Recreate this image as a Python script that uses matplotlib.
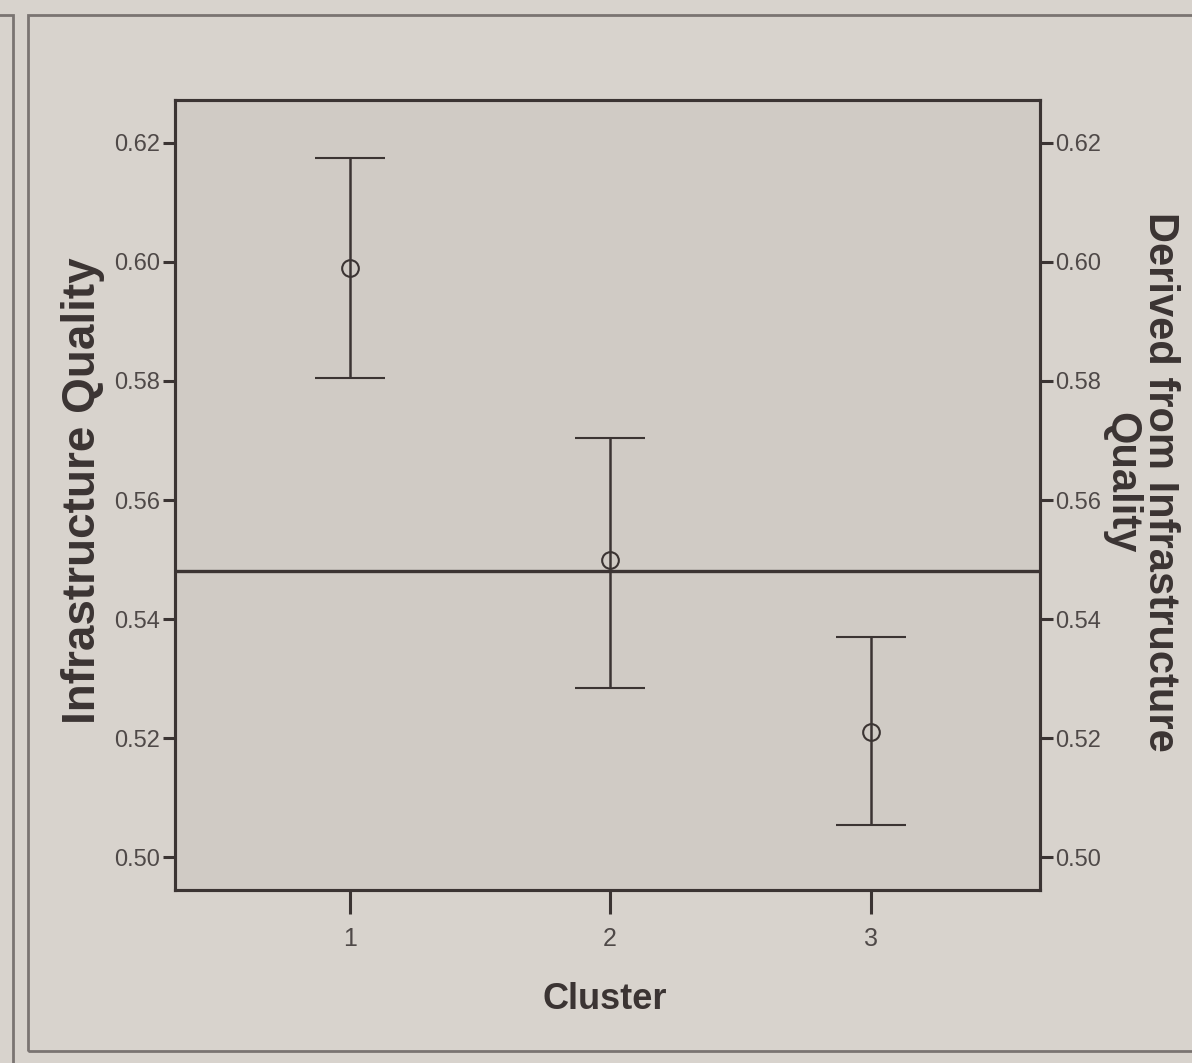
import matplotlib.pyplot as plt
from matplotlib.patches import Rectangle

# values
clusters = [1, 2, 3]
means = [0.599, 0.550, 0.521]
upper = [0.6175, 0.5705, 0.537]
lower = [0.5805, 0.5285, 0.5055]
ref_line = 0.548
yticks = [0.50, 0.52, 0.54, 0.56, 0.58, 0.60, 0.62]

ink = '#3b3433'
plt.rcParams['font.family'] = ['Liberation Sans', 'DejaVu Sans']

fig = plt.figure(figsize=(11.92, 10.63), dpi=100, facecolor='#d8d3cd')
ax = fig.add_axes([175 / 1192, 1 - 890 / 1063, 865 / 1192, 790 / 1063])
ax.set_facecolor('#d0cbc5')

err_lo = [m - l for m, l in zip(means, lower)]
err_hi = [u - m for u, m in zip(upper, means)]
ax.errorbar(clusters, means, yerr=[err_lo, err_hi], fmt='o', mfc='none', mec=ink,
            ms=12, mew=1.5, ecolor=ink, elinewidth=1.8, capsize=25, capthick=1.8)
ax.axhline(ref_line, color=ink, lw=2.4)

ax.set_xlim(0.33, 3.65)
ax.set_ylim(0.4945, 0.6272)
ax.set_xticks(clusters)
ax.set_yticks(yticks)
ax.set_yticklabels(['%.2f' % t for t in yticks])
for s in ax.spines.values():
    s.set_color(ink)
    s.set_linewidth(2.2)
ax.tick_params(axis='y', colors=ink, labelcolor='#4f4948', length=9, width=2.2,
               labelsize=17, pad=2)
ax.tick_params(axis='x', colors=ink, labelcolor='#4f4948', length=17, width=2.2,
               labelsize=18, pad=10)

ax2 = ax.twinx()
ax2.set_ylim(ax.get_ylim())
ax2.set_yticks(yticks)
ax2.set_yticklabels(['%.2f' % t for t in yticks])
ax2.tick_params(colors=ink, labelcolor='#4f4948', length=9, width=2.2, labelsize=17, pad=2)
for s in ax2.spines.values():
    s.set_color(ink)
    s.set_linewidth(2.2)

ax.set_xlabel('Cluster', fontsize=26, fontweight='bold', color=ink)
ax.xaxis.label.set(va='center', ha='center')
ax.xaxis.set_label_coords(0.497, -0.139)

ax.set_ylabel('Infrastructure Quality', fontsize=33, fontweight='bold', color=ink)
ax.yaxis.label.set(va='center', ha='center', rotation_mode='anchor')
ax.yaxis.set_label_coords(-0.106, 0.505)

ax2.set_ylabel('Derived from Infrastructure\nQuality', fontsize=30, fontweight='bold',
               color=ink, rotation=-90)
ax2.yaxis.label.set(va='center', ha='center', rotation_mode='anchor', linespacing=0.95)
ax2.yaxis.set_label_coords(1.1165, 0.516)

# outer frames from the page
fig.patches.append(Rectangle((28 / 1192, 12 / 1063), 1.0, 1 - 27 / 1063,
                             transform=fig.transFigure, fill=False, ec='#7a7472', lw=2))
fig.patches.append(Rectangle((-0.01, -0.01), 13 / 1192 + 0.01, 1 - 15 / 1063 + 0.01,
                             transform=fig.transFigure, fill=False, ec='#7a7472', lw=2))

fig.savefig('out.png', dpi=100, facecolor=fig.get_facecolor())
